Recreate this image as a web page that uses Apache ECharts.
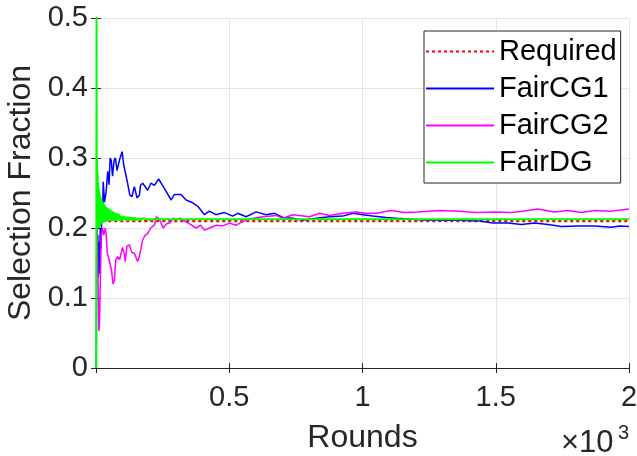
<!DOCTYPE html>
<html>
<head>
<meta charset="utf-8">
<script src="https://cdn.jsdelivr.net/npm/echarts@6/dist/echarts.min.js"></script>
<style>
html,body{margin:0;padding:0;background:#fff;}
#chart{width:637px;height:456px;}
</style>
</head>
<body>
<div id="chart"></div>
<script>
const seriesNames = ['Required', 'FairCG1', 'FairCG2', 'FairDG'];
const xTicks = [0, 500, 1000, 1500, 2000];
const yTicks = [0, 0.1, 0.2, 0.3, 0.4, 0.5];

const requiredData = [[1, 0.21], [2000, 0.21]];

const cg1Data = [
  [1,0],[3,0.2],[5,0.14],[7,0.19],[9,0.13],[11,0.18],[13,0.135],[16,0.2],[19,0.17],[22,0.225],
  [25,0.215],[27,0.266],[32,0.237],[38,0.252],[44,0.281],[49,0.262],[53,0.3],[57,0.297],[62,0.274],
  [68,0.297],[73,0.3],[79,0.282],[88,0.297],[98,0.309],[104,0.29],[110,0.29],[117,0.267],[127,0.247],
  [135,0.245],[144,0.259],[154,0.243],[163,0.247],[167,0.261],[175,0.264],[182,0.266],[194,0.254],
  [206,0.264],[219,0.261],[235,0.27],[256,0.257],[282,0.24],[294,0.248],[319,0.248],[338,0.24],
  [363,0.236],[382,0.231],[407,0.219],[425,0.224],[450,0.219],[482,0.222],[513,0.217],[532,0.221],
  [563,0.216],[601,0.223],[638,0.219],[670,0.221],[701,0.215],[739,0.214],[776,0.211],[826,0.214],
  [876,0.216],[926,0.217],[964,0.221],[1002,0.219],[1039,0.217],[1089,0.215],[1127,0.214],[1177,0.213],
  [1227,0.2114],[1300,0.211],[1364,0.211],[1439,0.21],[1489,0.207],[1546,0.207],[1596,0.205],
  [1646,0.207],[1696,0.205],[1746,0.202],[1808,0.203],[1871,0.203],[1934,0.201],[1965,0.203],[2000,0.202]
];

const cg2Data = [
  [2,0.2],[5,0.18],[8,0.12],[11,0.053],[13,0.06],[16,0.12],[20,0.19],[24,0.2],[29,0.19],[35,0.2],
  [38,0.192],[42,0.165],[49,0.155],[58,0.14],[64,0.12],[69,0.125],[74,0.154],[81,0.159],[89,0.155],
  [94,0.155],[99,0.172],[106,0.164],[110,0.152],[116,0.174],[125,0.176],[135,0.165],[144,0.164],
  [156,0.152],[162,0.158],[175,0.183],[185,0.19],[194,0.192],[205,0.2],[219,0.204],[227,0.216],
  [238,0.213],[252,0.2],[265,0.206],[277,0.207],[290,0.214],[302,0.212],[315,0.214],[332,0.21],
  [351,0.206],[376,0.2],[393,0.204],[407,0.197],[426,0.2],[451,0.204],[476,0.203],[501,0.207],
  [526,0.204],[545,0.208],[576,0.213],[626,0.216],[676,0.218],[701,0.214],[739,0.219],[801,0.216],
  [839,0.221],[876,0.218],[926,0.221],[976,0.223],[1014,0.221],[1052,0.221],[1108,0.225],[1157,0.222],
  [1207,0.223],[1289,0.225],[1364,0.224],[1427,0.222],[1502,0.223],[1559,0.222],[1600,0.224],
  [1658,0.227],[1721,0.223],[1770,0.225],[1821,0.222],[1871,0.225],[1930,0.224],[2000,0.227]
];

const dgData = [
  [1,0],[2,0.5],[3,0.2],[4,0.3],[5,0.2],[6,0.28],[7,0.2],[8,0.265],[9,0.2],[10,0.258],
  [11,0.2],[12,0.252],[13,0.201],[14,0.248],[15,0.203],[16,0.245],[17,0.205],[18,0.243],[19,0.206],
  [20,0.241],[21,0.207],[22,0.239],[23,0.207],[24,0.237],[25,0.208],[26,0.236],[27,0.208],[28,0.235],
  [29,0.208],[30,0.234],[32,0.209],[34,0.232],[36,0.209],[38,0.23],[40,0.209],[42,0.229],[44,0.21],
  [46,0.228],[48,0.21],[50,0.227],[52,0.21],[54,0.226],[56,0.21],[58,0.225],[60,0.21],[62,0.224],
  [64,0.21],[66,0.223],[68,0.21],[70,0.222],[72,0.21],[74,0.221],[76,0.21],[78,0.221],[80,0.21],
  [85,0.22],[90,0.21],[95,0.218],[100,0.21],[105,0.217],[110,0.211],[115,0.216],[120,0.211],
  [125,0.216],[130,0.211],[135,0.215],[140,0.211],[145,0.215],[150,0.211],[155,0.214],[160,0.211],
  [165,0.214],[170,0.211],[175,0.214],[180,0.2115],[190,0.213],[200,0.2115],[220,0.2128],[250,0.2125],
  [2000,0.2125]
];

const FONT = 'Liberation Sans, Arial, Helvetica, sans-serif';
const TXT = '#262626';

const chart = echarts.init(document.getElementById('chart'), null, {renderer: 'canvas'});
const axisCommon = {
  axisLine: {show: true, lineStyle: {color: TXT, width: 1}},
  axisTick: {show: true, inside: true, length: 5, lineStyle: {color: TXT}}
};
chart.setOption({
  animation: false,
  backgroundColor: '#fff',
  grid: {left: 96, right: 8, top: 18, bottom: 88, containLabel: false, outerBoundsMode: 'none'},
  xAxis: [
    Object.assign({
      type: 'value', min: xTicks[0], max: xTicks[xTicks.length - 1], interval: 500,
      position: 'bottom',
      name: 'Rounds', nameLocation: 'middle', nameGap: 54,
      nameTextStyle: {fontFamily: FONT, fontSize: 32, color: TXT},
      axisLabel: {
        fontFamily: FONT, fontSize: 29, color: TXT, margin: 15,
        formatter: v => v === 0 ? '' : String(v / 1000)
      },
      splitLine: {show: true, lineStyle: {color: '#e3e3e3', width: 1}}
    }, axisCommon),
    Object.assign({
      type: 'value', min: xTicks[0], max: xTicks[xTicks.length - 1], interval: 500,
      position: 'top', axisLabel: {show: false}, splitLine: {show: false}
    }, axisCommon)
  ],
  yAxis: [
    Object.assign({
      type: 'value', min: yTicks[0], max: yTicks[yTicks.length - 1], interval: 0.1,
      position: 'left',
      name: 'Selection Fraction', nameLocation: 'middle', nameGap: 53,
      nameTextStyle: {fontFamily: FONT, fontSize: 32, color: TXT},
      axisLabel: {
        fontFamily: FONT, fontSize: 29, color: TXT, margin: 8,
        formatter: v => String(Math.round(v * 10) / 10)
      },
      splitLine: {show: true, lineStyle: {color: '#e3e3e3', width: 1}}
    }, axisCommon),
    Object.assign({
      type: 'value', min: yTicks[0], max: yTicks[yTicks.length - 1], interval: 0.1,
      position: 'right', axisLabel: {show: false}, splitLine: {show: false}
    }, axisCommon)
  ],
  legend: {
    show: true, orient: 'vertical', left: 424, top: 31,
    padding: [4, 4, 4, 1], itemGap: 4, itemWidth: 68, itemHeight: 10,
    backgroundColor: '#fff', borderColor: TXT, borderWidth: 1, borderRadius: 0,
    itemStyle: {opacity: 0},
    textStyle: {fontFamily: FONT, fontSize: 29, color: '#000', lineHeight: 33},
    data: seriesNames
  },
  graphic: [
    {type: 'text', left: 561, top: 428, style: {text: '×10', fontFamily: FONT, fontSize: 31, fill: TXT}},
    {type: 'text', left: 618, top: 423, style: {text: '3', fontFamily: FONT, fontSize: 20, fill: TXT}}
  ],
  series: [
    {name: seriesNames[0], type: 'line', data: requiredData, showSymbol: false, symbol: 'none',
     lineStyle: {color: '#ff0000', width: 2.5, type: [3, 3]}, itemStyle: {color: '#ff0000'}, z: 2},
    {name: seriesNames[1], type: 'line', data: cg1Data, showSymbol: false, symbol: 'none',
     lineStyle: {color: '#0000ff', width: 1.5}, itemStyle: {color: '#0000ff'}, z: 3},
    {name: seriesNames[2], type: 'line', data: cg2Data, showSymbol: false, symbol: 'none',
     lineStyle: {color: '#ff00ff', width: 1.5}, itemStyle: {color: '#ff00ff'}, z: 4},
    {name: seriesNames[3], type: 'line', data: dgData, showSymbol: false, symbol: 'none',
     lineStyle: {color: '#00ff00', width: 2}, itemStyle: {color: '#00ff00'}, z: 5}
  ]
});
</script>
</body>
</html>
